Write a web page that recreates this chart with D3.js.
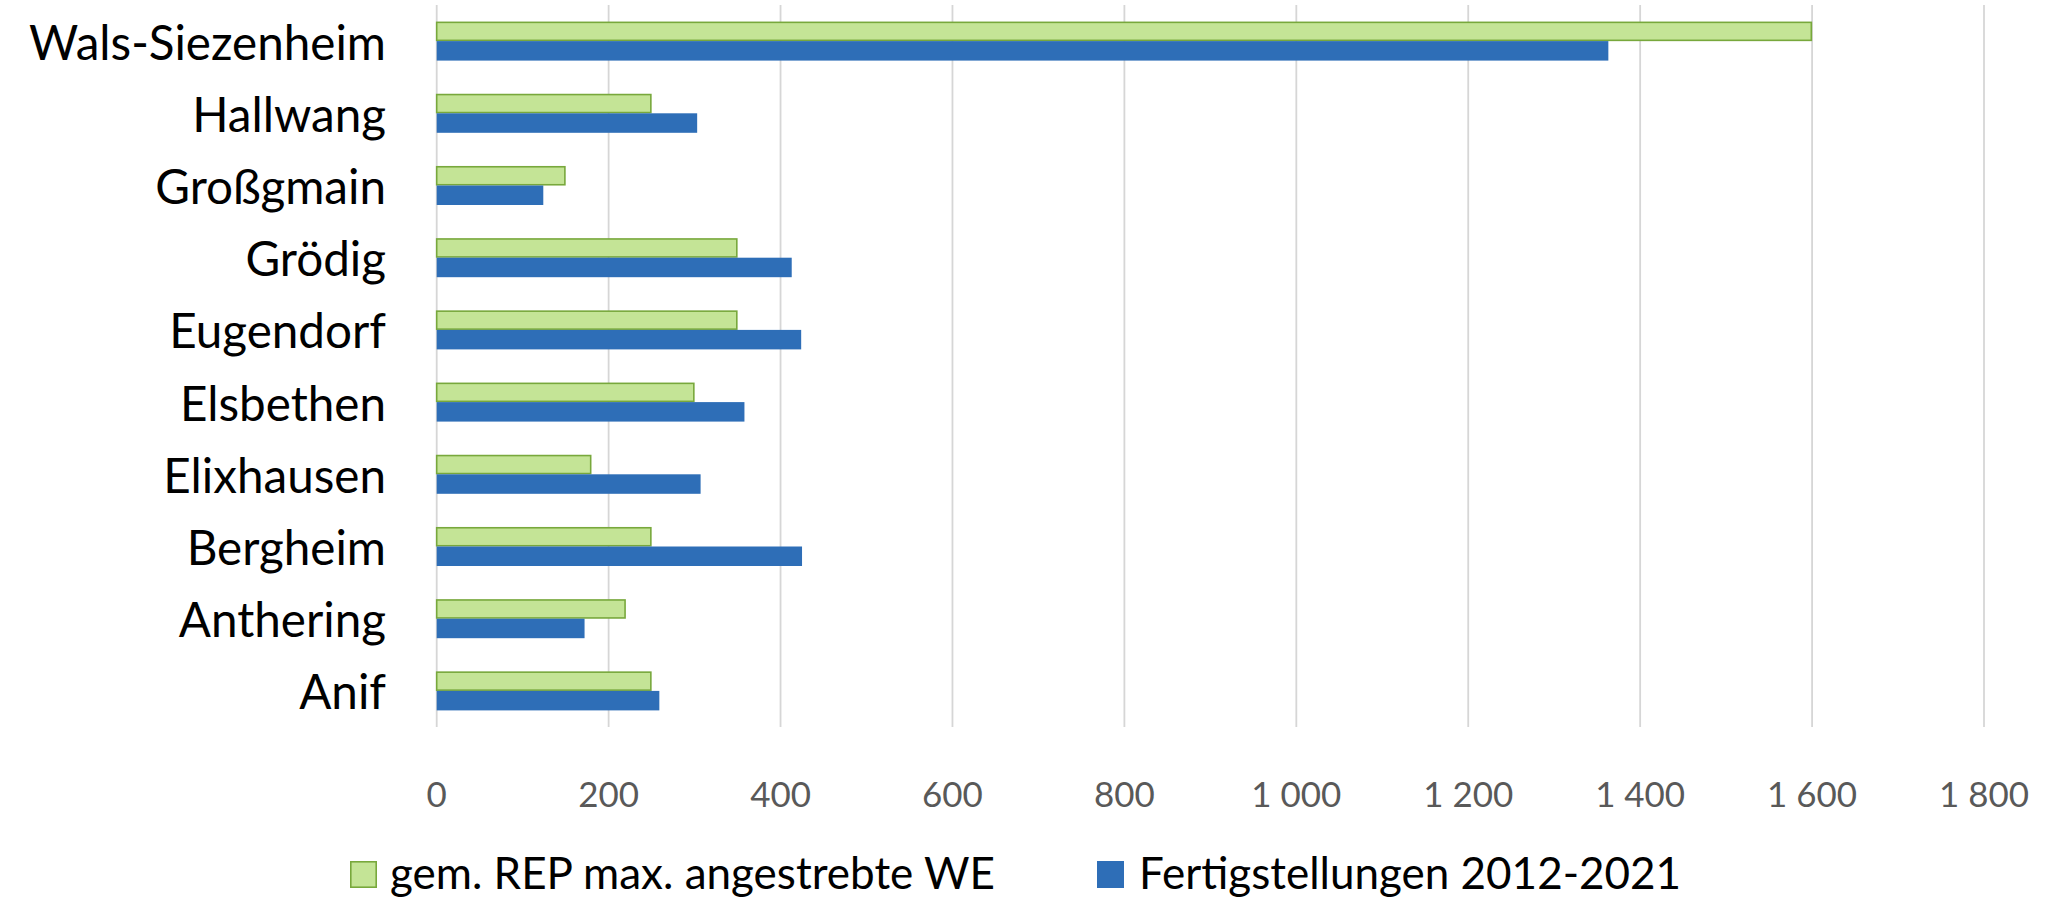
<!DOCTYPE html>
<html>
<head>
<meta charset="utf-8">
<script src="https://cdn.jsdelivr.net/npm/d3@7"></script>
<style>
  html, body { margin: 0; padding: 0; background: #fff; }
  svg { display: block; }
  text { font-family: Lato, "Open Sans", sans-serif; }
</style>
</head>
<body>
<svg id="chart" width="2060" height="898"></svg>
<script>
// ---- data ----
const categories = ["Wals-Siezenheim", "Hallwang", "Großgmain", "Grödig", "Eugendorf",
                    "Elsbethen", "Elixhausen", "Bergheim", "Anthering", "Anif"];
const seriesNames = ["gem. REP max. angestrebte WE", "Fertigstellungen 2012-2021"];
const repValues = [1600, 250, 150, 350, 350, 300, 180, 250, 220, 250];
const fertigValues = [1363, 303, 124, 413, 424, 358, 307, 425, 172, 259];
const xTicks = [0, 200, 400, 600, 800, 1000, 1200, 1400, 1600, 1800];

const colors = { fill: ["#C4E496", "#2E6EB7"], stroke: ["#78A83C", "none"] };

const svg = d3.select("#chart");
const plot = { left: 436.7, right: 1984, top: 5, bottom: 727 };

const x = d3.scaleLinear().domain([0, 1800]).range([plot.left, plot.right]);
const y = d3.scaleBand().domain(categories).range([plot.top, plot.bottom])
  .paddingInner(0.46).paddingOuter(0.23);
const ySub = d3.scaleBand().domain(seriesNames).range([0, y.bandwidth()]);

const fmt = d3.formatLocale({ decimal: ",", thousands: " ", grouping: [3], currency: ["", "€"] }).format(",d");

// gridlines
svg.append("g").selectAll("line").data(xTicks).join("line")
  .attr("x1", d => x(d)).attr("x2", d => x(d))
  .attr("y1", plot.top).attr("y2", plot.bottom)
  .attr("stroke", "#D6D6D6").attr("stroke-width", 1.8);

// bars
const data = categories.map((c, i) => ({ cat: c, vals: [repValues[i], fertigValues[i]] }));
const groups = svg.append("g").selectAll("g").data(data).join("g")
  .attr("transform", d => `translate(0,${y(d.cat)})`);
groups.selectAll("rect").data(d => d.vals.map((v, k) => ({ v, k }))).join("rect")
  .attr("x", x(0))
  .attr("y", d => ySub(seriesNames[d.k]) + (d.k === 0 ? 0.75 : 0))
  .attr("width", d => x(d.v) - x(0) - (d.k === 0 ? 0.75 : 0))
  .attr("height", d => ySub.bandwidth() - (d.k === 0 ? 1.5 : 0))
  .attr("fill", d => colors.fill[d.k])
  .attr("stroke", d => colors.stroke[d.k])
  .attr("stroke-width", 1.6);

// helper to fit a font size so that a sample text has a target width
function fitSize(sample, target, base) {
  const t = svg.append("text").attr("font-size", base).text(sample);
  const w = t.node().getComputedTextLength();
  t.remove();
  return base * target / w;
}

// category labels
const catSize = fitSize("Wals-Siezenheim", 357, 40);
svg.append("g").selectAll("text").data(categories).join("text")
  .attr("x", 386)
  .attr("y", d => y(d) + y.bandwidth() / 2)
  .attr("text-anchor", "end")
  .attr("dominant-baseline", "central")
  .attr("font-size", catSize)
  .attr("fill", "#000")
  .text(d => d);

// x tick labels
const tickSize = fitSize("1 800", 90, 40);
svg.append("g").selectAll("text").data(xTicks).join("text")
  .attr("x", d => x(d))
  .attr("y", 793)
  .attr("text-anchor", "middle")
  .attr("dominant-baseline", "central")
  .attr("font-size", tickSize)
  .attr("fill", "#595959")
  .text(d => fmt(d));

// legend
const legSize = fitSize(seriesNames[0], 605, 40);
const legendX = [350, 1097];
const leg = svg.append("g").selectAll("g").data(seriesNames).join("g")
  .attr("transform", (d, i) => `translate(${legendX[i]},861)`);
leg.append("rect")
  .attr("x", (d, i) => i === 0 ? 0.8 : 0).attr("y", (d, i) => i === 0 ? 0.8 : 0)
  .attr("width", (d, i) => i === 0 ? 25.4 : 27).attr("height", (d, i) => i === 0 ? 25.4 : 27)
  .attr("fill", (d, i) => colors.fill[i])
  .attr("stroke", (d, i) => colors.stroke[i])
  .attr("stroke-width", 1.6);
leg.append("text")
  .attr("x", (d, i) => i === 0 ? 40 : 42)
  .attr("y", 10.5)
  .attr("dominant-baseline", "central")
  .attr("font-size", legSize)
  .attr("fill", "#000")
  .text(d => d);
</script>
</body>
</html>
